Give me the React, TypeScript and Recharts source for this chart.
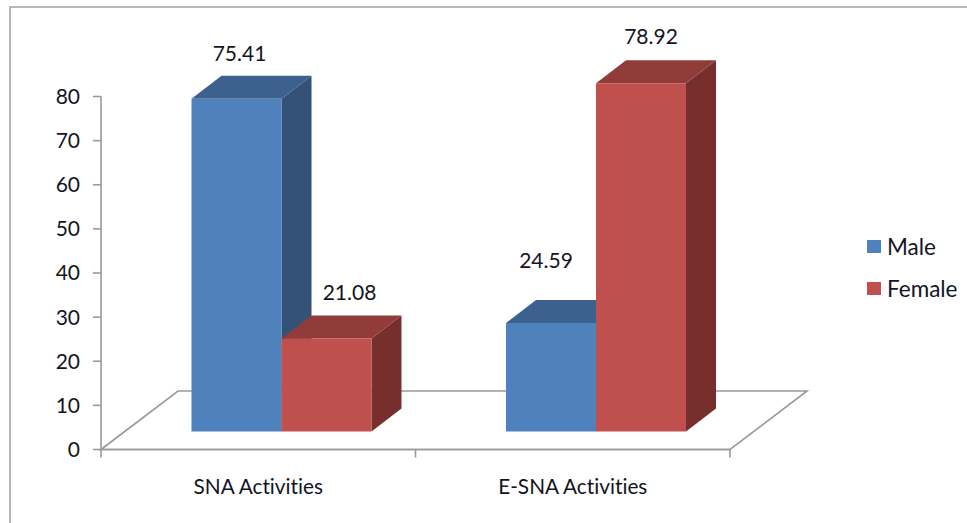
import React from "react";
import { BarChart, Bar, XAxis, YAxis, Legend, LabelList, usePlotArea } from "recharts";

const categories = ["SNA Activities", "E-SNA Activities"];
const maleValues = [75.41, 24.59];
const femaleValues = [21.08, 78.92];
const yTicks = [0, 10, 20, 30, 40, 50, 60, 70, 80];

const rows = categories.map((name, i) => ({ name, Male: maleValues[i], Female: femaleValues[i] }));

const FONT = "Lato, Carlito, sans-serif";
const TEXT = "#14141e";
const AXIS = "#999999";
const BAR_SHIFT = { x: 23.5, y: -18 };
const DEPTH = { x: 30, y: -23 };
const FLOOR = { x: 77, y: -58.5 };
const maleColors = { front: "#4F81BD", top: "#3C618F", side: "#345177" };
const femaleColors = { front: "#C0504D", top: "#923C3A", side: "#772F2D" };
const maleLabelNudge = [{ x: 3, y: -46 }, { x: -5, y: -63 }];
const femaleLabelNudge = [{ x: 23, y: -47 }, { x: 10, y: -48 }];

const Bar3D = (colors: any) => (p: any) => {
  const x = p.x + BAR_SHIFT.x;
  const y = p.y + BAR_SHIFT.y;
  const w = p.width;
  const h = p.height;
  const dx = DEPTH.x;
  const dy = DEPTH.y;
  return (
    <g>
      <polygon points={`${x + w},${y} ${x + w + dx},${y + dy} ${x + w + dx},${y + h + dy} ${x + w},${y + h}`} fill={colors.side} />
      <polygon points={`${x},${y} ${x + dx},${y + dy} ${x + w + dx},${y + dy} ${x + w},${y}`} fill={colors.top} />
      <rect x={x} y={y} width={w} height={h} fill={colors.front} />
    </g>
  );
};

const valueLabel = (nudges: any[]) => (p: any) => {
  const n = nudges[p.index];
  return (
    <text
      x={p.x + p.width / 2 + BAR_SHIFT.x + n.x}
      y={p.y + BAR_SHIFT.y + n.y}
      textAnchor="middle"
      dominantBaseline="central"
      fontFamily={FONT}
      fontSize={21}
      fill={TEXT}
    >
      {p.value}
    </text>
  );
};

const Backdrop = () => {
  const area = usePlotArea();
  if (!area) return null;
  const { x, y, width, height } = area;
  const base = y + height;
  const band = width / categories.length;
  const marks = categories.map((_, i) => x + band * i).concat(x + width);
  return (
    <g>
      <rect x={10} y={7} width={1200} height={900} fill="none" stroke="#A6A6A6" strokeWidth={1.6} />
      <polygon
        points={`${x},${base} ${x + FLOOR.x},${base + FLOOR.y} ${x + width + FLOOR.x},${base + FLOOR.y} ${x + width},${base}`}
        fill="#ffffff"
        stroke={AXIS}
        strokeWidth={1.6}
      />
      {marks.map((m, i) => (
        <line key={i} x1={m} x2={m} y1={base} y2={base + 8} stroke={AXIS} strokeWidth={1.6} />
      ))}
    </g>
  );
};

const LegendBox = ({ payload }: any) => (
  <div style={{ fontFamily: FONT, fontSize: 22.5, color: TEXT }}>
    {(payload || []).map((e: any) => (
      <div key={e.value} style={{ display: "flex", alignItems: "center", height: 42 }}>
        <span style={{ width: 14, height: 13, background: e.color, marginRight: 6, display: "inline-block" }} />
        <span>{e.value}</span>
      </div>
    ))}
  </div>
);

export default function App() {
  return (
    <div style={{ position: "absolute", left: 0, top: 0, width: 967, height: 523, overflow: "hidden", background: "#fff" }}>
      <BarChart
        width={967}
        height={523}
        data={rows}
        margin={{ top: 96.5, right: 237, bottom: 0, left: 0 }}
        barSize={90}
        barGap={0}
      >
        <Backdrop />
        <XAxis
          dataKey="name"
          height={73.5}
          axisLine={{ stroke: AXIS, strokeWidth: 1.6 }}
          tickLine={false}
          tickMargin={24}
          tick={{ fontFamily: FONT, fontSize: 20.8, fill: TEXT, style: { fontVariantLigatures: "none" } }}
          interval={0}
        />
        <YAxis
          width={101}
          domain={[0, 80]}
          ticks={yTicks}
          axisLine={{ stroke: AXIS, strokeWidth: 1.6 }}
          tickLine={{ stroke: AXIS, strokeWidth: 1.6 }}
          tickSize={8}
          tickMargin={13}
          tick={{ fontFamily: FONT, fontSize: 21, fill: TEXT }}
        />
        <Legend
          layout="horizontal"
          verticalAlign="middle"
          align="center"
          itemSorter={null}
          content={<LegendBox />}
          wrapperStyle={{ position: "absolute", left: 867, top: 225, width: 100, bottom: "auto", right: "auto" }}
        />
        <Bar dataKey="Male" fill={maleColors.front} isAnimationActive={false} shape={Bar3D(maleColors)}>
          <LabelList dataKey="Male" content={valueLabel(maleLabelNudge)} />
        </Bar>
        <Bar dataKey="Female" fill={femaleColors.front} isAnimationActive={false} shape={Bar3D(femaleColors)}>
          <LabelList dataKey="Female" content={valueLabel(femaleLabelNudge)} />
        </Bar>
      </BarChart>
    </div>
  );
}
